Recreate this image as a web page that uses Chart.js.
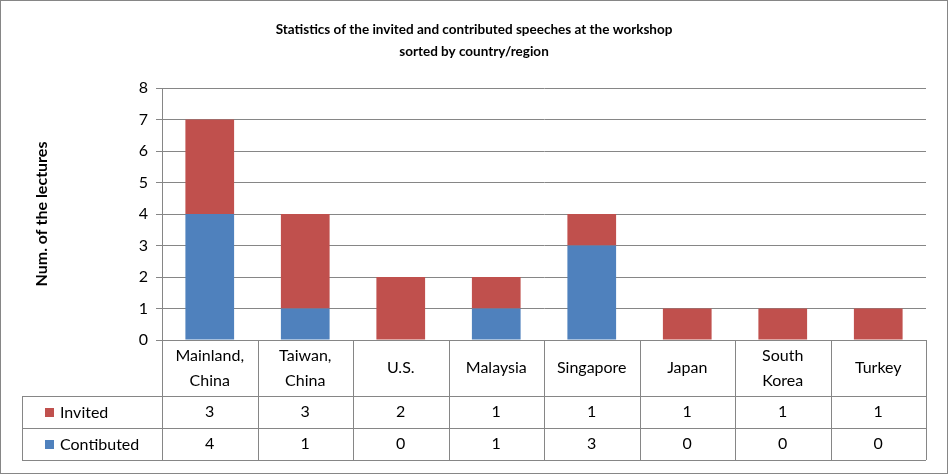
<!DOCTYPE html>
<html>
<head>
<meta charset="utf-8">
<script src="https://cdn.jsdelivr.net/npm/chart.js@4"></script>
<style>
  html, body { margin: 0; padding: 0; background: #fff; }
  #wrap { width: 948px; height: 474px; }
</style>
</head>
<body>
<div id="wrap"><canvas id="chart"></canvas></div>
<script>
const categories = [['Mainland,', 'China'], ['Taiwan,', 'China'], ['U.S.'], ['Malaysia'], ['Singapore'], ['Japan'], ['South', 'Korea'], ['Turkey']];
const invited = [3, 3, 2, 1, 1, 1, 1, 1];
const contributed = [4, 1, 0, 1, 3, 0, 0, 0];
const titleLines = ['Statistics of the invited and contributed speeches at the workshop', 'sorted by country/region'];

const RED = '#C0504D';
const BLUE = '#4F81BD';
const FONT = 'Lato, "Open Sans", sans-serif';

// draws title, axis title, the data table under the plot and the outer border
const tablePlugin = {
  id: 'table',
  afterDraw(chart) {
    const ctx = chart.ctx;
    const area = chart.chartArea;
    const x = chart.scales.x;
    const left = 22;
    const rows = [area.bottom, area.bottom + 56, area.bottom + 88, area.bottom + 120];
    const step = (area.right - area.left) / categories.length;

    ctx.save();
    ctx.strokeStyle = '#868686';
    ctx.lineWidth = 1;
    ctx.beginPath();
    for (let i = 1; i < rows.length; i++) {
      ctx.moveTo(left, Math.round(rows[i]) + 0.5);
      ctx.lineTo(area.right, Math.round(rows[i]) + 0.5);
    }
    ctx.moveTo(left + 0.5, rows[1]);
    ctx.lineTo(left + 0.5, rows[3]);
    for (let i = 0; i <= categories.length; i++) {
      const xx = Math.round(area.left + i * step) + 0.5;
      ctx.moveTo(xx, rows[0]);
      ctx.lineTo(xx, rows[3]);
    }
    ctx.stroke();

    ctx.fillStyle = '#000';
    ctx.font = '16px ' + FONT;
    ctx.textAlign = 'center';
    ctx.textBaseline = 'middle';
    categories.forEach((lines, i) => {
      const cx = x.getPixelForValue(i);
      const my = (rows[0] + rows[1]) / 2;
      lines.forEach((t, j) => {
        ctx.fillText(t, cx, my + (j - (lines.length - 1) / 2) * 25);
      });
      ctx.fillText(String(invited[i]), cx, (rows[1] + rows[2]) / 2);
      ctx.fillText(String(contributed[i]), cx, (rows[2] + rows[3]) / 2);
    });

    // legend keys inside the table
    ctx.textAlign = 'left';
    [[RED, 'Invited', (rows[1] + rows[2]) / 2], [BLUE, 'Contibuted', (rows[2] + rows[3]) / 2]].forEach(([c, t, y]) => {
      ctx.fillStyle = c;
      ctx.fillRect(45, y - 4, 9, 9);
      ctx.fillStyle = '#000';
      ctx.fillText(t, 60, y + 1);
    });

    // title
    ctx.textAlign = 'center';
    ctx.font = 'bold 13.5px ' + FONT;
    ctx.fillText(titleLines[0], 474, 30);
    ctx.fillText(titleLines[1], 474, 52);

    // y-axis title
    ctx.font = 'bold 16px ' + FONT;
    ctx.translate(42, (area.top + area.bottom) / 2);
    ctx.rotate(-Math.PI / 2);
    ctx.fillText('Num. of the lectures', 0, 0);
    ctx.restore();

    ctx.save();
    ctx.strokeStyle = '#868686';
    ctx.strokeRect(0.5, 0.5, chart.width - 1, chart.height - 1);
    ctx.restore();
  }
};

new Chart(document.getElementById('chart'), {
  type: 'bar',
  data: {
    labels: categories.map(c => c.join(' ')),
    datasets: [
      { label: 'Contibuted', data: contributed, backgroundColor: BLUE },
      { label: 'Invited', data: invited, backgroundColor: RED }
    ]
  },
  options: {
    responsive: true,
    maintainAspectRatio: false,
    animation: false,
    layout: { padding: { left: 22, right: 22, top: 88, bottom: 134 } },
    datasets: { bar: { categoryPercentage: 1, barPercentage: 0.51 } },
    plugins: { legend: { display: false }, tooltip: { enabled: false } },
    scales: {
      x: { stacked: true, display: false },
      y: {
        stacked: true,
        min: 0,
        max: 8,
        ticks: { stepSize: 1, color: '#000', font: { size: 16, family: FONT }, padding: 8 },
        grid: { color: '#868686', drawTicks: true, tickLength: 6 },
        border: { color: '#868686' },
        afterFit(scale) { scale.width = 140; }
      }
    }
  },
  plugins: [tablePlugin]
});
</script>
</body>
</html>
